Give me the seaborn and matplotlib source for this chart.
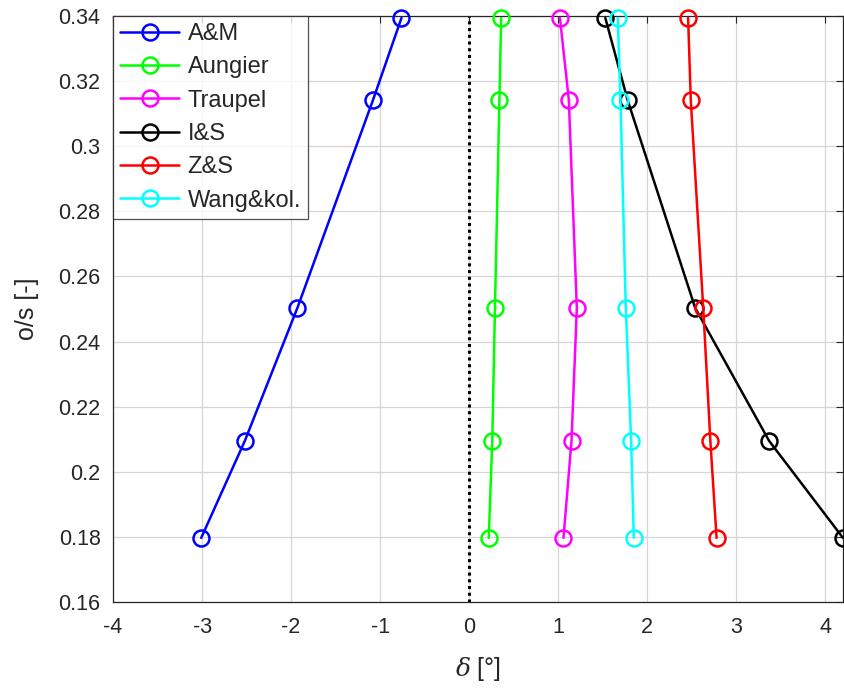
import matplotlib
matplotlib.use("Agg")
import matplotlib.pyplot as plt
import seaborn as sns
import pandas as pd

sns.set_style("white")
plt.rcParams['font.family'] = ['Liberation Sans', 'DejaVu Sans']
plt.rcParams['mathtext.fontset'] = 'dejavuserif'

os_vals = [0.3394, 0.3142, 0.2503, 0.2095, 0.1797]
series_names = ["A&M", "Aungier", "Traupel", "I&S", "Z&S", "Wang&kol."]
am = [-0.76, -1.08, -1.93, -2.52, -3.01]
aungier = [0.36, 0.34, 0.29, 0.26, 0.22]
traupel = [1.02, 1.12, 1.21, 1.15, 1.06]
i_s = [1.53, 1.78, 2.54, 3.37, 4.2]
z_s = [2.46, 2.49, 2.63, 2.71, 2.78]
wang = [1.67, 1.70, 1.76, 1.82, 1.85]
colors = ["#0000ff", "#00ff00", "#ff00ff", "#000000", "#ff0000", "#00ffff"]
xticks = [-4, -3, -2, -1, 0, 1, 2, 3, 4]
yticks = [0.16, 0.18, 0.2, 0.22, 0.24, 0.26, 0.28, 0.3, 0.32, 0.34]

fig = plt.figure(figsize=(8.44, 6.9), dpi=100)
ax = fig.add_axes([0.134, 0.1275, 0.8648, 0.8493])

for name, xs, c in zip(series_names, [am, aungier, traupel, i_s, z_s, wang], colors):
    df = pd.DataFrame({"delta": xs, "os": os_vals})
    sns.lineplot(data=df, x="delta", y="os", sort=False, estimator=None, ax=ax,
                 color=c, linewidth=1.8, marker="o", markersize=11.5,
                 markerfacecolor="none", markeredgecolor=c, markeredgewidth=1.8,
                 label=name, clip_on=False, zorder=3)

ax.axvline(0, color="black", linestyle=(0, (1, 1.2)), linewidth=2.2, zorder=2)

ax.set_xlim(-4, 4.2)
ax.set_ylim(0.16, 0.34)
ax.set_xticks(xticks)
ax.set_xticklabels([str(t) for t in xticks])
ax.set_yticks(yticks)
ax.set_yticklabels([f"{t:g}" for t in yticks])
ax.grid(True, color="#d6d6d6", linewidth=0.9)
ax.tick_params(direction="in", length=5, width=0.8, labelsize=15.5, colors="#262626",
               top=True, right=True, labelcolor="#262626")
ax.tick_params(axis="x", pad=11)
ax.tick_params(axis="y", pad=9)
for s in ax.spines.values():
    s.set_color("#262626")
    s.set_linewidth(0.9)
    s.set_visible(True)

ax.set_xlabel(r"$\delta$ [°]", fontsize=18, color="#262626", labelpad=12)
ax.set_ylabel("o/s [-]", fontsize=18, color="#262626", labelpad=14)

leg = ax.legend(loc="upper left", fontsize=17, frameon=True, fancybox=False,
                edgecolor="#262626", borderaxespad=0, handlelength=2.5,
                labelspacing=0.48, borderpad=0.3, handletextpad=0.35)
leg.get_frame().set_linewidth(0.9)
leg.set_zorder(5)

fig.savefig("out.png", dpi=100)
